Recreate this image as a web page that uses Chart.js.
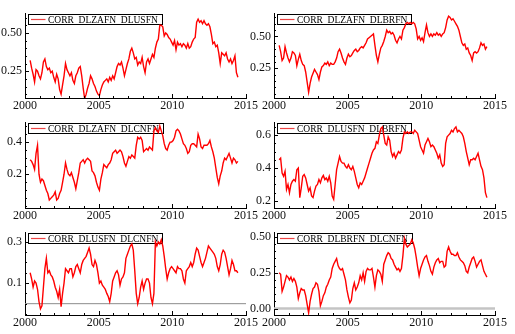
<!DOCTYPE html>
<html>
<head>
<meta charset="utf-8">
<script src="https://cdn.jsdelivr.net/npm/chart.js@4/dist/chart.umd.min.js"></script>
<style>
  html, body { margin: 0; background: #fff; }
  #wrap { position: relative; width: 515px; height: 334px; overflow: hidden; }
  #wrap canvas { position: absolute; }
</style>
</head>
<body>
<div id="wrap"></div>
<script>
// rolling correlations, sampled every 0.1 year from 2000.35
const startYear = 2000.35;
const stepYear = 0.1;

const corrZaUs = [
  0.32, 0.27, 0.23, 0.18, 0.26, 0.25, 0.22,
  0.20, 0.24, 0.31, 0.33, 0.28, 0.26, 0.27, 0.24, 0.25, 0.21,
  0.18, 0.23, 0.20, 0.13, 0.10, 0.16, 0.22, 0.30, 0.26, 0.24,
  0.22, 0.24, 0.19, 0.17, 0.22, 0.24, 0.27, 0.28, 0.22, 0.14,
  0.07, 0.10, 0.14, 0.17, 0.22, 0.20, 0.17, 0.15, 0.12, 0.10,
  0.09, 0.13, 0.16, 0.18, 0.19, 0.20, 0.18, 0.21, 0.19, 0.22,
  0.20, 0.24, 0.28, 0.30, 0.29, 0.31, 0.27, 0.22, 0.26, 0.30,
  0.33, 0.38, 0.40, 0.37, 0.33, 0.34, 0.29, 0.31, 0.30, 0.34,
  0.28, 0.24, 0.31, 0.33, 0.30, 0.33, 0.36, 0.34, 0.40, 0.44,
  0.46, 0.55, 0.55, 0.54, 0.48, 0.50, 0.49, 0.47, 0.46, 0.44,
  0.42, 0.45, 0.39, 0.44, 0.42, 0.43, 0.41, 0.43, 0.42, 0.40,
  0.43, 0.40, 0.41, 0.44, 0.46, 0.47, 0.57, 0.59, 0.57, 0.58,
  0.56, 0.58, 0.56, 0.55, 0.56, 0.54, 0.49, 0.43, 0.44, 0.41,
  0.42, 0.37, 0.30, 0.37, 0.36, 0.35, 0.37, 0.33, 0.31, 0.33,
  0.30, 0.32, 0.35, 0.24, 0.21
];

const corrZaBr = [
  0.43, 0.38, 0.31, 0.33, 0.42, 0.37, 0.33,
  0.30, 0.33, 0.38, 0.37, 0.35, 0.27, 0.32, 0.36, 0.31, 0.28,
  0.27, 0.22, 0.14, 0.06, 0.13, 0.18, 0.21, 0.24, 0.22, 0.20,
  0.16, 0.22, 0.26, 0.27, 0.29, 0.28, 0.30, 0.27, 0.29, 0.28,
  0.28, 0.30, 0.33, 0.38, 0.40, 0.37, 0.33, 0.30, 0.28, 0.33,
  0.36, 0.34, 0.35, 0.37, 0.39, 0.40, 0.38, 0.39, 0.41, 0.42,
  0.41, 0.43, 0.45, 0.48, 0.49, 0.50, 0.51, 0.52, 0.43, 0.35,
  0.30, 0.36, 0.41, 0.43, 0.46, 0.50, 0.55, 0.53, 0.54, 0.52,
  0.53, 0.51, 0.47, 0.45, 0.48, 0.50, 0.48, 0.55, 0.57, 0.60,
  0.61, 0.60, 0.61, 0.60, 0.61, 0.60, 0.56, 0.48, 0.50, 0.47,
  0.49, 0.46, 0.53, 0.59, 0.53, 0.50, 0.52, 0.50, 0.52, 0.51,
  0.53, 0.51, 0.52, 0.50, 0.52, 0.53, 0.57, 0.63, 0.66, 0.65,
  0.63, 0.64, 0.62, 0.60, 0.58, 0.55, 0.50, 0.45, 0.43, 0.44,
  0.40, 0.41, 0.37, 0.35, 0.31, 0.37, 0.38, 0.37, 0.38, 0.41,
  0.45, 0.43, 0.44, 0.40, 0.42
];

const corrZaCn = [
  0.29, 0.28, 0.26, 0.23, 0.33, 0.38, 0.20,
  0.15, 0.17, 0.16, 0.13, 0.10, 0.08, 0.04, 0.05, 0.06, 0.07,
  0.09, 0.04, 0.05, 0.08, 0.10, 0.15, 0.20, 0.27, 0.23, 0.20,
  0.19, 0.21, 0.18, 0.15, 0.11, 0.16, 0.21, 0.27, 0.28, 0.29,
  0.27, 0.29, 0.30, 0.29, 0.28, 0.22, 0.21, 0.19, 0.15, 0.12,
  0.10, 0.17, 0.21, 0.26, 0.25, 0.24, 0.26, 0.27, 0.29, 0.33,
  0.34, 0.35, 0.33, 0.34, 0.35, 0.34, 0.31, 0.27, 0.25, 0.28,
  0.31, 0.30, 0.32, 0.31, 0.30, 0.38, 0.43, 0.42, 0.43, 0.41,
  0.34, 0.35, 0.36, 0.35, 0.37, 0.36, 0.35, 0.47, 0.49, 0.47,
  0.46, 0.50, 0.47, 0.44, 0.39, 0.36, 0.35, 0.38, 0.40, 0.40,
  0.41, 0.43, 0.47, 0.48, 0.47, 0.45, 0.42, 0.39, 0.38, 0.36,
  0.33, 0.34, 0.38, 0.39, 0.39, 0.38, 0.37, 0.45, 0.42, 0.37,
  0.36, 0.38, 0.38, 0.38, 0.39, 0.41, 0.37, 0.34, 0.30, 0.24,
  0.18, 0.14, 0.19, 0.22, 0.27, 0.30, 0.29, 0.31, 0.33, 0.30,
  0.27, 0.30, 0.29, 0.27, 0.28
];

const corrUsBr = [
  0.45, 0.46, 0.37, 0.35, 0.38, 0.27, 0.30,
  0.25, 0.30, 0.32, 0.33, 0.32, 0.39, 0.40, 0.22, 0.28, 0.35,
  0.36, 0.34, 0.30, 0.26, 0.28, 0.23, 0.22, 0.26, 0.29, 0.30,
  0.33, 0.31, 0.34, 0.355, 0.33, 0.34, 0.32, 0.35, 0.31, 0.23,
  0.21, 0.30, 0.39, 0.43, 0.47, 0.44, 0.43, 0.43, 0.41, 0.40,
  0.42, 0.40, 0.39, 0.41, 0.38, 0.34, 0.30, 0.28, 0.31, 0.30,
  0.32, 0.34, 0.37, 0.40, 0.43, 0.46, 0.49, 0.51, 0.52, 0.56,
  0.55, 0.60, 0.64, 0.65, 0.60, 0.55, 0.54, 0.59, 0.57, 0.50,
  0.47, 0.49, 0.46, 0.48, 0.50, 0.49, 0.51, 0.58, 0.62, 0.61,
  0.62, 0.61, 0.62, 0.62, 0.61, 0.63, 0.62, 0.61, 0.57, 0.53,
  0.51, 0.49, 0.54, 0.56, 0.58, 0.56, 0.53, 0.54, 0.53, 0.51,
  0.49, 0.46, 0.48, 0.43, 0.41, 0.42, 0.55, 0.59, 0.60, 0.61,
  0.63, 0.62, 0.64, 0.65, 0.62, 0.63, 0.62, 0.61, 0.59, 0.55,
  0.50, 0.46, 0.42, 0.45, 0.45, 0.46, 0.45, 0.47, 0.49, 0.45,
  0.41, 0.39, 0.34, 0.25, 0.22
];

const corrUsCn = [
  0.15, 0.12, 0.08, 0.11, 0.10, 0.07, 0.01,
  -0.025, -0.01, 0.08, 0.17, 0.22, 0.15, 0.16, 0.14, 0.13, 0.11,
  0.08, 0.06, 0.03, 0.07, -0.015, 0.05, 0.10, 0.17, 0.16, 0.15,
  0.17, 0.17, 0.13, 0.15, 0.18, 0.19, 0.17, 0.15, 0.19, 0.21,
  0.22, 0.23, 0.25, 0.27, 0.24, 0.19, 0.18, 0.21, 0.19, 0.15,
  0.10, 0.11, 0.09, 0.08, 0.07, 0.05, 0.035, 0.01, 0.05, 0.11,
  0.13, 0.15, 0.16, 0.14, 0.09, 0.12, 0.13, 0.15, 0.22, 0.24,
  0.26, 0.28, 0.29, 0.26, 0.16, 0.05, 0.00, 0.03, 0.08, 0.11,
  0.07, 0.10, 0.12, 0.12, 0.10, 0.03, 0.00, 0.05, 0.30, 0.28,
  0.30, 0.29, 0.31, 0.28, 0.23, 0.17, 0.12, 0.15, 0.17, 0.18,
  0.17, 0.16, 0.15, 0.18, 0.17, 0.17, 0.16, 0.12, 0.10, 0.16,
  0.17, 0.18, 0.20, 0.18, 0.20, 0.24, 0.27, 0.26, 0.23, 0.20,
  0.18, 0.20, 0.22, 0.25, 0.28, 0.27, 0.26, 0.25, 0.24, 0.22,
  0.18, 0.16, 0.19, 0.24, 0.26, 0.25, 0.22, 0.18, 0.14, 0.17,
  0.21, 0.19, 0.16, 0.16, 0.15
];

const corrBrCn = [
  0.25, 0.24, 0.12, 0.15, 0.19, 0.23, 0.22,
  0.20, 0.22, 0.19, 0.21, 0.19, 0.15, 0.07, 0.11, 0.14, 0.13,
  0.13, 0.09, 0.03, -0.03, 0.05, 0.10, 0.14, 0.15, 0.18, 0.17,
  0.12, 0.02, 0.05, 0.09, 0.11, 0.15, 0.17, 0.20, 0.22, 0.28,
  0.31, 0.33, 0.35, 0.30, 0.28, 0.27, 0.28, 0.24, 0.20, 0.13,
  0.08, 0.04, 0.06, 0.14, 0.18, 0.13, 0.15, 0.18, 0.23, 0.20,
  0.25, 0.19, 0.26, 0.28, 0.27, 0.27, 0.28, 0.22, 0.15, 0.23,
  0.27, 0.26, 0.24, 0.19, 0.31, 0.34, 0.37, 0.39, 0.38, 0.35,
  0.34, 0.31, 0.29, 0.27, 0.28, 0.26, 0.28, 0.37, 0.49, 0.45,
  0.43, 0.44, 0.45, 0.48, 0.46, 0.42, 0.36, 0.29, 0.23, 0.28,
  0.31, 0.34, 0.36, 0.37, 0.33, 0.30, 0.26, 0.24, 0.29, 0.32,
  0.34, 0.35, 0.32, 0.33, 0.33, 0.29, 0.30, 0.40, 0.43, 0.40,
  0.38, 0.38, 0.37, 0.37, 0.39, 0.36, 0.34, 0.33, 0.32, 0.30,
  0.26, 0.25, 0.29, 0.32, 0.35, 0.36, 0.33, 0.29, 0.31, 0.33,
  0.34, 0.30, 0.26, 0.24, 0.22
];

const xTicks = [2000, 2005, 2010, 2015];

const panels = [
  { name: "CORR_DLZAFN_DLUSFN", values: corrZaUs, col: 0, row: 0,
    yMin: 0.075, yMax: 0.63, yTicks: [0.25, 0.5], digits: 2, minor: 0.05 },
  { name: "CORR_DLZAFN_DLBRFN", values: corrZaBr, col: 1, row: 0,
    yMin: 0.015, yMax: 0.685, yTicks: [0.25, 0.5], digits: 2, minor: 0.05 },
  { name: "CORR_DLZAFN_DLCNFN", values: corrZaCn, col: 0, row: 1,
    yMin: -0.01, yMax: 0.525, yTicks: [0.2, 0.4], digits: 1, minor: 0.05 },
  { name: "CORR_DLUSFN_DLBRFN", values: corrUsBr, col: 1, row: 1,
    yMin: 0.157, yMax: 0.68, yTicks: [0.2, 0.4, 0.6], digits: 1, minor: 0.05 },
  { name: "CORR_DLUSFN_DLCNFN", values: corrUsCn, col: 0, row: 2,
    yMin: -0.055, yMax: 0.348, yTicks: [0.1, 0.3], digits: 1, minor: 0.05,
    zero: { color: "#8c8c8c", width: 1 } },
  { name: "CORR_DLBRFN_DLCNFN", values: corrBrCn, col: 1, row: 2,
    yMin: -0.045, yMax: 0.535, yTicks: [0, 0.25, 0.5], digits: 2, minor: 0.05,
    zero: { color: "#c4c4c4", width: 2.5 } }
];

// layout of the 3x2 grid
const CANVAS_W = 262;
const CANVAS_H = 112;
const colLeft = [0, 249];
const rows = [
  { top: 0, plotTop: 13, plotBottom: 98 },
  { top: 110, plotTop: 12, plotBottom: 98 },
  { top: 220, plotTop: 12, plotBottom: 95 }
];
const AXIS_W = 25;
const RIGHT_PAD = 16;
const serif = '"Liberation Serif", "Times New Roman", serif';

function drawAxisTicks(chart, panel) {
  const { ctx, chartArea } = chart;
  const xs = chart.scales.x;
  const ys = chart.scales.y;
  ctx.save();
  ctx.strokeStyle = "#000";
  ctx.lineWidth = 1;
  ctx.beginPath();
  for (let yr = 2000; yr <= 2015; yr++) {
    const px = Math.round(xs.getPixelForValue(yr)) + 0.5;
    const len = yr % 5 === 0 ? 4 : 2;
    ctx.moveTo(px, chartArea.bottom);
    ctx.lineTo(px, chartArea.bottom - len);
  }
  const first = Math.ceil(panel.yMin / panel.minor - 1e-6);
  const last = Math.floor(panel.yMax / panel.minor + 1e-6);
  for (let k = first; k <= last; k++) {
    const v = k * panel.minor;
    const major = panel.yTicks.some(t => Math.abs(t - v) < 1e-6);
    const py = Math.round(ys.getPixelForValue(v)) + 0.5;
    ctx.moveTo(chartArea.left, py);
    ctx.lineTo(chartArea.left + (major ? 4 : 2), py);
  }
  ctx.stroke();
  ctx.restore();
}

function drawZeroLine(chart, panel) {
  if (!panel.zero) return;
  const { ctx, chartArea } = chart;
  const py = chart.scales.y.getPixelForValue(0);
  ctx.save();
  ctx.strokeStyle = panel.zero.color;
  ctx.lineWidth = panel.zero.width;
  ctx.beginPath();
  ctx.moveTo(chartArea.left, py);
  ctx.lineTo(chartArea.right, py);
  ctx.stroke();
  ctx.restore();
}

function drawLegendBox(chart, panel) {
  const { ctx, chartArea } = chart;
  ctx.save();
  ctx.font = "9.5px " + serif;
  const textW = ctx.measureText(panel.name).width;
  const bx = Math.round(chartArea.left + 3) + 0.5;
  const by = Math.round(chartArea.top + 1) + 0.5;
  const bw = Math.round(19.5 + textW + 4.5);
  const bh = 10;
  ctx.strokeStyle = "#000";
  ctx.lineWidth = 1;
  ctx.strokeRect(bx, by, bw, bh);
  // sample of the series line
  ctx.strokeStyle = "#ee4444";
  ctx.lineWidth = 1.2;
  ctx.beginPath();
  ctx.moveTo(bx + 2.5, by + 5);
  ctx.lineTo(bx + 17, by + 5);
  ctx.stroke();
  ctx.fillStyle = "#000";
  ctx.textBaseline = "middle";
  ctx.fillText(panel.name, bx + 19.5, by + 5.5);
  ctx.restore();
}

function makePanel(panel) {
  const row = rows[panel.row];
  const canvas = document.createElement("canvas");
  canvas.width = CANVAS_W;
  canvas.height = CANVAS_H;
  canvas.style.left = colLeft[panel.col] + "px";
  canvas.style.top = row.top + "px";
  document.getElementById("wrap").appendChild(canvas);

  const points = panel.values.map((v, i) => ({ x: startYear + i * stepYear, y: v }));

  new Chart(canvas.getContext("2d"), {
    type: "line",
    data: {
      datasets: [
        {
          label: panel.name,
          data: points,
          borderColor: "#ff0000",
          borderWidth: 1.4,
          pointRadius: 0,
          tension: 0,
          fill: false
        }
      ]
    },
    options: {
      responsive: false,
      animation: false,
      devicePixelRatio: 1,
      layout: {
        autoPadding: false,
        padding: { top: row.plotTop, right: RIGHT_PAD, bottom: 0, left: 0 }
      },
      plugins: {
        legend: { display: false },
        tooltip: { enabled: false }
      },
      scales: {
        x: {
          type: "linear",
          min: 2000,
          max: 2015,
          grid: { display: false, drawTicks: false },
          border: { display: true, color: "#000", width: 1 },
          afterBuildTicks: scale => {
            scale.ticks = xTicks.map(v => ({ value: v }));
          },
          afterFit: scale => {
            scale.height = CANVAS_H - row.plotBottom;
          },
          ticks: {
            autoSkip: false,
            maxRotation: 0,
            padding: 1,
            color: "#111",
            font: { family: serif, size: 12 },
            callback: v => String(v)
          }
        },
        y: {
          min: panel.yMin,
          max: panel.yMax,
          grid: { display: false, drawTicks: false },
          border: { display: true, color: "#000", width: 1 },
          afterBuildTicks: scale => {
            scale.ticks = panel.yTicks.map(v => ({ value: v }));
          },
          afterFit: scale => {
            scale.width = AXIS_W;
          },
          ticks: {
            autoSkip: false,
            padding: 3,
            color: "#111",
            font: { family: serif, size: 12 },
            callback: v => Number(v).toFixed(panel.digits)
          }
        }
      }
    },
    plugins: [
      {
        id: "panelDecor",
        beforeDatasetsDraw: chart => {
          drawZeroLine(chart, panel);
          drawLegendBox(chart, panel);
        },
        afterDraw: chart => drawAxisTicks(chart, panel)
      }
    ]
  });
}

panels.forEach(makePanel);
</script>
</body>
</html>
